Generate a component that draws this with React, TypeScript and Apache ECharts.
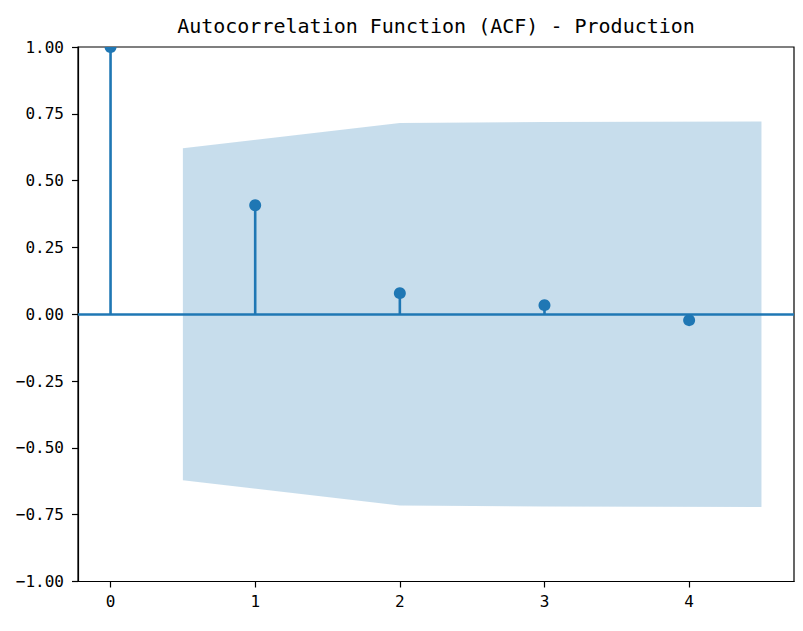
import React, { useEffect, useRef } from "react";
import * as echarts from "echarts";

const lags = [0, 1, 2, 3, 4];
const acfValues = [1.0, 0.408, 0.079, 0.034, -0.022];
const bandX = [0.5, 2, 3, 4.5];
const bandHalfWidth = [0.621, 0.716, 0.719, 0.721];
const xTicks = [0, 1, 2, 3, 4];
const titleText = "Autocorrelation Function (ACF) - Production";

const BLUE = "#1f77b4";
const FONT = "'DejaVu Sans Mono', monospace";

export default function App() {
  const ref = useRef<HTMLDivElement>(null);
  useEffect(() => {
    if (!ref.current) return;
    const chart = echarts.init(ref.current, undefined, { renderer: "svg" });
    const gridLeft = 78;
    const gridRight = 9;
    const gridTop = 47;
    const gridBottom = 49.5;
    const stemData = lags.map((l, i) => [l, acfValues[i]]);
    const bandPoints = bandX.map((x, i) => [x, bandHalfWidth[i]]);
    chart.setOption({
      animation: false,
      backgroundColor: "#ffffff",
      grid: {
        left: gridLeft,
        right: gridRight,
        top: gridTop,
        bottom: gridBottom,
        show: true,
        borderColor: "#000",
        borderWidth: 1.2,
        backgroundColor: "transparent",
      },
      graphic: [
        {
          type: "text",
          x: gridLeft + (803 - gridLeft - gridRight) / 2,
          y: 26,
          style: {
            text: titleText,
            font: `20px ${FONT}`,
            fill: "#000",
            textAlign: "center",
            textVerticalAlign: "middle",
          },
        },
      ],
      xAxis: {
        type: "value",
        min: -0.225,
        max: 4.725,
        splitLine: { show: false },
        axisLine: { show: true, onZero: false, lineStyle: { color: "#000", width: 1.2 } },
        axisTick: {
          show: true,
          length: 6,
          customValues: xTicks,
          lineStyle: { color: "#000", width: 1.2 },
        },
        axisLabel: {
          customValues: xTicks,
          margin: 12,
          color: "#000",
          fontSize: 16,
          fontFamily: FONT,
          formatter: (v: number) => String(v),
        },
      },
      yAxis: {
        type: "value",
        min: -1,
        max: 1,
        interval: 0.25,
        splitLine: { show: false },
        axisLine: { show: true, onZero: false, lineStyle: { color: "#000", width: 1.2 } },
        axisTick: { show: true, length: 6, lineStyle: { color: "#000", width: 1.2 } },
        axisLabel: {
          margin: 14,
          color: "#000",
          fontSize: 16,
          fontFamily: FONT,
          formatter: (v: number) => v.toFixed(2).replace("-", "\u2212"),
        },
      },
      series: [
        {
          type: "custom",
          name: "band",
          clip: true,
          z: 1,
          data: [0],
          renderItem: (params: any, api: any) => {
            const upper = bandPoints.map((p) => api.coord([p[0], p[1]]));
            const lower = bandPoints
              .slice()
              .reverse()
              .map((p) => api.coord([p[0], -p[1]]));
            return {
              type: "polygon",
              shape: { points: upper.concat(lower) },
              style: { fill: "rgba(31,119,180,0.25)", stroke: "none" },
            };
          },
        },
        {
          type: "custom",
          name: "acf",
          clip: true,
          z: 3,
          data: stemData,
          markLine: {
            silent: true,
            symbol: "none",
            label: { show: false },
            lineStyle: { color: BLUE, width: 2.7, type: "solid" },
            data: [{ yAxis: 0 }],
          },
          renderItem: (params: any, api: any) => {
            const x = api.value(0);
            const y = api.value(1);
            const p0 = api.coord([x, 0]);
            const p1 = api.coord([x, y]);
            return {
              type: "group",
              children: [
                {
                  type: "line",
                  shape: { x1: p0[0], y1: p0[1], x2: p1[0], y2: p1[1] },
                  style: { stroke: BLUE, lineWidth: 2.6 },
                },
                {
                  type: "circle",
                  shape: { cx: p1[0], cy: p1[1], r: 6 },
                  style: { fill: BLUE, stroke: "none" },
                },
              ],
            };
          },
        },
      ],
    });
    return () => chart.dispose();
  }, []);
  return (
    <div
      ref={ref}
      style={{ position: "fixed", left: 0, top: 0, width: 803, height: 631 }}
    />
  );
}
